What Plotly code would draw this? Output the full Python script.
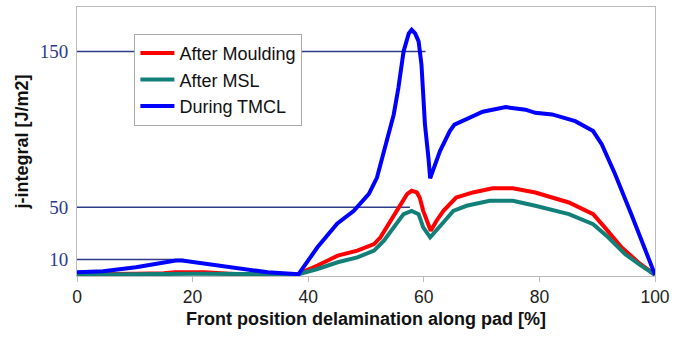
import plotly.graph_objects as go

# ---- data ----
moulding_x = [0, 5, 10, 15, 17, 22, 25, 28, 32, 36, 38.2, 41.6, 45.1, 48.5, 51.4, 52.5, 54.2, 55.9,
              57.1, 57.9, 58.8, 59.3, 59.9, 61.2, 62.2, 63.4, 65.6, 68.5, 71.9, 75.4, 79.3, 85.1,
              89.3, 91.3, 94.2, 97.1, 100]
moulding_y = [0.8, 0.8, 1.2, 1.6, 2.2, 2.2, 1.5, 0.8, 1.0, 1.2, 1.0, 6.7, 13.3, 16.7, 21.1, 25.6, 36.7, 47.8,
              54.4, 56.7, 55.6, 52, 43.3, 30, 36.7, 43.3, 52.2, 55.6, 58.4, 58.4, 55.6, 48.9,
              41.1, 32.2, 18.9, 8.9, 0.5]

msl_x = [0, 5, 10, 20, 30, 38.2, 41.6, 45.1, 48.5, 51.4, 53.1, 54.8, 56.5, 57.9, 59.1, 59.9, 61.1,
         63.9, 65.1, 67.4, 71.4, 75.4, 79.3, 85.1, 89.3, 91.9, 94.8, 97.6, 100]
msl_y = [0.5, 0.7, 1.1, 1.2, 1.1, 0.7, 4.4, 8.9, 12.2, 16.7, 23.3, 32.2, 41.1, 43.3, 41.1, 32.2, 25.6,
         37.8, 43.3, 46.7, 50, 50, 46.7, 41.1, 34.4, 25.6, 14.4, 6.7, 0.5]

tmcl_x = [0, 4.5, 10.2, 13, 14.2, 16, 17.1, 18.2, 23.3, 27.4, 33, 37.7, 38.3, 41.6, 43, 45, 47.9, 50.5,
          51.9, 52.8, 53.6, 54.8, 55.6, 56.5, 57.4, 57.9, 58.5, 59.1, 59.6, 59.8, 60.2, 60.8, 61.1,
          62.8, 64.5, 65.3, 67.4, 70.2, 74.2, 77.6, 79.3, 82.2, 86.2, 89.3, 90.8, 93.1, 95.9, 98.2, 100]
tmcl_y = [2.2, 2.9, 5.5, 7.3, 7.8, 9.3, 10.0, 10.0, 7.3, 5.5, 2.2, 1.1, 0.8, 18.9, 25, 34.7, 43.3, 54.7,
          65.6, 78.9, 90, 107.8, 125.5, 150, 162, 164.4, 162, 156.7, 141, 123, 101, 78.9, 65,
          83.3, 96.7, 101, 104.4, 109.6, 112.7, 111, 108.9, 107.8, 103.3, 96.7, 87.8, 67.8, 41.1, 18.9, 0.5]

series_names = ["After Moulding", "After MSL", "During TMCL"]
series_colors = ["#ff0000", "#128078", "#0000ff"]

x_ticks = [0, 20, 40, 60, 80, 100]
ref_levels = [150, 45.7, 10.8]      # where the labelled reference lines sit
ref_labels = ["150", "50", "10"]
ref_ends = [60.3, 57.6, 18.5]       # x where each reference line stops

# ---- figure ----
fig = go.Figure()
for name, col, xs, ys in zip(series_names, series_colors,
                             [moulding_x, msl_x, tmcl_x], [moulding_y, msl_y, tmcl_y]):
    fig.add_trace(go.Scatter(x=xs, y=ys, mode="lines", name=name, legendgroup=name,
                             line=dict(color=col, width=4)))

for lv, xe in zip(ref_levels, ref_ends):
    fig.add_shape(type="line", xref="x", yref="y", x0=0, x1=xe, y0=lv, y1=lv,
                  line=dict(color="#2e3a8a", width=1.5), layer="below")

fig.update_layout(
    width=676, height=337,
    margin=dict(l=77, r=15, t=6, b=61),
    paper_bgcolor="white", plot_bgcolor="white",
    font=dict(family="Arial, Liberation Sans, sans-serif", color="#222222"),
    legend=dict(x=0.0993, y=0.9, xanchor="left", yanchor="top",
                bordercolor="#aaaaaa", borderwidth=1, bgcolor="white",
                font=dict(size=18, color="#111111"), tracegroupgap=0,
                traceorder="grouped", itemwidth=34),
    xaxis=dict(range=[0, 100], tickvals=x_ticks, ticks="outside", ticklen=5,
               tickcolor="#bbbbbb", showline=True, linecolor="#bbbbbb", mirror=True,
               showgrid=False, zeroline=False, tickfont=dict(size=17.5, color="#222222"),
               title=dict(text="<b>Front position delamination along pad [%]</b>",
                          font=dict(size=18, color="#111111"), standoff=6)),
    yaxis=dict(range=[-0.3, 179.7], tickvals=ref_levels, ticktext=ref_labels, ticks="",
               showline=True, linecolor="#bbbbbb", mirror=True, showgrid=False, zeroline=False,
               tickfont=dict(family="Liberation Serif, Times New Roman, serif", size=19, color="#2e3a8a"),
               ticklabelstandoff=4,
               title=dict(text="<b>j-integral [J/m2]</b>",
                          font=dict(size=18, color="#111111"), standoff=6)),
)

fig.write_html("out.html")
